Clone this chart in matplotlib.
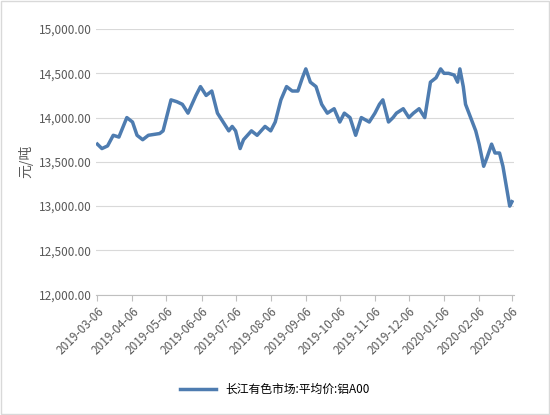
import matplotlib
matplotlib.use("Agg")
import matplotlib.pyplot as plt
import matplotlib.dates as mdates
import pandas as pd

plt.rcParams['font.family'] = ['Noto Sans CJK SC', 'DejaVu Sans']

dates = ["2019-03-06","2019-03-10","2019-03-15","2019-03-20","2019-03-25","2019-04-01","2019-04-06","2019-04-10","2019-04-15","2019-04-20","2019-04-30",
"2019-05-03","2019-05-06","2019-05-10","2019-05-15","2019-05-20","2019-05-25","2019-06-01","2019-06-05","2019-06-10","2019-06-15","2019-06-20","2019-06-25","2019-06-30",
"2019-07-03","2019-07-06","2019-07-10","2019-07-13","2019-07-20","2019-07-25","2019-08-01","2019-08-06","2019-08-10","2019-08-15","2019-08-20","2019-08-25","2019-08-30",
"2019-09-03","2019-09-06","2019-09-10","2019-09-15","2019-09-20","2019-09-25","2019-10-01","2019-10-06","2019-10-10","2019-10-15","2019-10-20","2019-10-25",
"2019-11-01","2019-11-06","2019-11-10","2019-11-13","2019-11-18","2019-11-22","2019-11-25","2019-12-01","2019-12-06","2019-12-10","2019-12-15","2019-12-20","2019-12-25","2019-12-30",
"2020-01-03","2020-01-06","2020-01-10","2020-01-15","2020-01-18","2020-01-20","2020-01-23","2020-01-25","2020-02-03","2020-02-06","2020-02-10","2020-02-13","2020-02-17","2020-02-20","2020-02-24","2020-02-27","2020-03-02","2020-03-04","2020-03-06"]
prices = [13700,13650,13680,13800,13780,14000,13950,13800,13750,13800,13820,
13850,14000,14200,14180,14150,14050,14250,14350,14250,14300,14050,13950,13850,
13900,13850,13650,13750,13850,13800,13900,13850,13950,14200,14350,14300,14300,
14450,14550,14400,14350,14150,14050,14100,13950,14050,14000,13800,14000,
13950,14050,14150,14200,13950,14000,14050,14100,14000,14050,14100,14000,14400,14450,
14550,14500,14500,14480,14400,14550,14350,14150,13850,13700,13450,13550,13700,13600,13600,13450,13150,13000,13050]
tick_labels = ["2019-03-06","2019-04-06","2019-05-06","2019-06-06","2019-07-06","2019-08-06","2019-09-06","2019-10-06","2019-11-06","2019-12-06","2020-01-06","2020-02-06","2020-03-06"]
series_name = "长江有色市场:平均价:铝A00"

x = pd.to_datetime(dates)
fig = plt.figure(figsize=(5.5, 4.15), dpi=100)
ax = fig.add_axes([0.175, 0.29, 0.76, 0.64])
ax.plot(x, prices, color="#4e7cb0", lw=2.5, label=series_name)
ax.set_ylim(12000, 15000)
ax.set_yticks(range(12000, 15001, 500))
ax.set_yticklabels([f"{v:,.2f}" for v in range(12000, 15001, 500)], fontsize=8.5, color="#595959")
tk = pd.to_datetime(tick_labels)
ax.set_xticks(tk)
ax.set_xticklabels(tick_labels, rotation=45, ha="right", rotation_mode="anchor", fontsize=8.5, color="#595959")
ax.set_xlim(tk[0] - pd.Timedelta(days=1), tk[-1] + pd.Timedelta(days=2))
ax.grid(axis="y", color="#d9d9d9", lw=0.8)
for s in ["top", "right", "left"]:
    ax.spines[s].set_visible(False)
ax.spines["bottom"].set_color("#bfbfbf")
ax.tick_params(axis="both", length=0)
ax.tick_params(axis="x", length=4, color="#bfbfbf")
ax.set_ylabel("元/吨", fontsize=10, color="#595959")
fig.legend(loc="lower center", bbox_to_anchor=(0.5, 0.02), frameon=False, fontsize=8.5, handlelength=3)
fig.patches.append(plt.Rectangle((0.002, 0.002), 0.996, 0.996, transform=fig.transFigure, fill=False, edgecolor="#d9d9d9", lw=1))
fig.savefig("out.png", dpi=100)
